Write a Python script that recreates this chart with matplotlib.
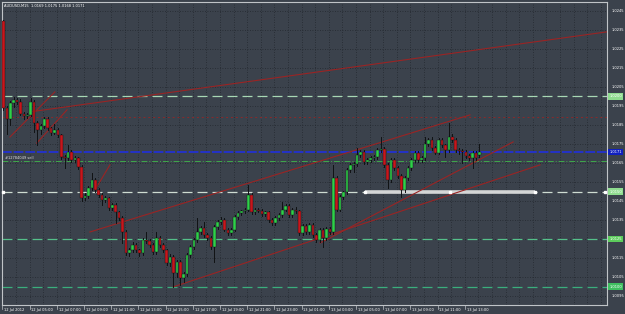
import numpy as np
import matplotlib
matplotlib.use("Agg")
import matplotlib.pyplot as plt
import matplotlib.transforms as mtrans

# AUDUSD M15, prices in pips above 1.0000
open_pips = [239.5, 194.0, 188.0, 196.5, 198.0, 197.0, 191.0, 189.5, 190.5, 197.0,
             186.0, 182.5, 184.5, 188.0, 183.5, 181.0, 182.5, 179.5, 168.0, 167.5,
             171.0, 166.5, 167.5, 163.0, 146.5, 147.5, 152.0, 156.0, 151.0, 148.0,
             145.5, 146.5, 141.5, 143.0, 139.0, 136.0, 128.5, 117.5, 119.0, 122.0,
             119.0, 117.5, 124.5, 124.0, 122.0, 118.0, 125.5, 122.0, 119.0, 112.5,
             115.5, 107.0, 113.0, 104.5, 106.5, 116.5, 121.0, 124.5, 128.5, 131.0,
             127.0, 125.5, 121.0, 131.5, 134.0, 135.0, 130.0, 128.0, 130.0, 136.5,
             138.5, 139.5, 140.5, 148.0, 139.0, 140.5, 140.0, 138.0, 139.0, 135.0,
             133.5, 136.0, 137.5, 140.5, 142.5, 137.5, 140.5, 139.5, 128.0, 132.0,
             128.5, 132.5, 127.0, 124.5, 130.0, 125.5, 130.5, 128.5, 157.0, 140.5,
             147.0, 149.5, 161.5, 164.0, 164.5, 169.0, 171.0, 165.5, 166.5, 167.5,
             168.0, 172.0, 172.5, 164.0, 156.0, 166.5, 162.5, 158.0, 151.0, 157.0,
             162.5, 166.5, 170.5, 166.5, 167.5, 175.0, 177.0, 173.0, 170.5, 177.0,
             174.5, 172.0, 178.5, 177.0, 172.0, 171.5, 171.0, 168.5, 167.5, 170.5,
             169.0]
high_pips = [240.0, 195.0, 197.5, 199.5, 199.0, 198.5, 192.0, 191.5, 199.0, 198.0,
             187.0, 185.5, 189.0, 189.0, 184.0, 185.5, 183.5, 180.5, 169.0, 174.5,
             172.0, 168.5, 168.0, 164.0, 149.0, 153.0, 160.0, 157.0, 152.0, 149.0,
             147.5, 147.0, 144.0, 144.0, 140.0, 137.0, 129.5, 120.5, 123.5, 123.0,
             120.0, 125.5, 128.5, 125.0, 123.0, 128.5, 126.5, 123.0, 120.0, 117.0,
             116.5, 114.0, 114.0, 107.5, 117.5, 122.0, 125.5, 136.0, 132.0, 134.0,
             128.0, 126.5, 132.5, 135.0, 136.5, 136.0, 131.0, 131.0, 137.5, 139.5,
             140.5, 141.5, 153.5, 149.0, 141.5, 141.5, 141.0, 140.0, 140.0, 136.0,
             137.0, 138.5, 144.5, 143.5, 143.5, 141.5, 142.0, 140.5, 133.0, 133.0,
             133.5, 133.5, 128.0, 131.0, 131.0, 131.5, 131.5, 164.0, 158.0, 148.0,
             150.5, 162.5, 165.0, 165.5, 173.0, 172.0, 172.0, 167.5, 168.5, 169.0,
             173.0, 178.5, 173.5, 165.0, 167.5, 167.5, 163.5, 159.0, 158.0, 163.5,
             167.5, 171.5, 171.5, 168.5, 178.5, 178.0, 178.5, 174.0, 178.0, 178.0,
             175.0, 186.0, 180.0, 178.0, 173.0, 172.5, 172.0, 169.5, 171.5, 171.5,
             175.0]
low_pips = [193.0, 180.0, 185.0, 194.5, 196.0, 190.0, 188.0, 188.5, 189.5, 181.5,
            174.5, 180.0, 183.5, 182.5, 179.5, 180.0, 178.5, 167.0, 162.5, 166.5,
            165.5, 165.5, 162.0, 145.0, 145.5, 146.5, 151.0, 150.0, 147.0, 143.0,
            144.5, 140.5, 140.5, 133.5, 135.0, 123.0, 116.5, 116.0, 118.0, 118.0,
            116.0, 116.5, 123.0, 121.0, 117.0, 117.0, 121.0, 118.0, 111.5, 111.0,
            100.0, 105.0, 101.0, 102.5, 105.5, 115.5, 120.0, 123.5, 127.5, 126.0,
            124.5, 119.5, 113.0, 130.5, 133.0, 129.0, 127.0, 127.0, 129.0, 135.5,
            137.5, 138.5, 139.5, 138.0, 138.0, 139.0, 137.0, 137.0, 134.0, 132.5,
            132.5, 135.0, 136.5, 139.5, 136.5, 136.5, 138.5, 127.0, 127.0, 127.5,
            127.5, 126.0, 123.5, 123.5, 121.0, 124.5, 127.5, 127.5, 139.5, 139.5,
            146.0, 148.5, 160.5, 160.5, 163.5, 168.0, 164.5, 164.5, 165.5, 166.5,
            167.0, 171.0, 163.0, 152.0, 155.0, 161.5, 157.0, 147.0, 150.0, 156.0,
            161.5, 165.5, 165.5, 165.5, 166.5, 174.0, 172.0, 169.5, 169.5, 173.5,
            168.0, 171.0, 176.0, 171.0, 170.0, 165.0, 167.5, 166.5, 162.5, 166.5,
            168.0]
close_pips = [194.0, 188.0, 196.5, 198.0, 197.0, 191.0, 189.5, 190.5, 197.0, 186.0,
              182.5, 184.5, 188.0, 183.5, 181.0, 182.5, 179.5, 168.0, 167.5, 171.0,
              166.5, 167.5, 163.0, 146.5, 147.5, 152.0, 156.0, 151.0, 148.0, 145.5,
              146.5, 141.5, 143.0, 139.0, 136.0, 128.5, 117.5, 119.0, 122.0, 119.0,
              117.5, 124.5, 124.0, 122.0, 118.0, 125.5, 122.0, 119.0, 112.5, 115.5,
              107.0, 113.0, 104.5, 106.5, 116.5, 121.0, 124.5, 128.5, 131.0, 127.0,
              125.5, 121.0, 131.5, 134.0, 135.0, 130.0, 128.0, 130.0, 136.5, 138.5,
              139.5, 140.5, 148.0, 139.0, 140.5, 140.0, 138.0, 139.0, 135.0, 133.5,
              136.0, 137.5, 140.5, 142.5, 137.5, 140.5, 139.5, 128.0, 132.0, 128.5,
              132.5, 127.0, 124.5, 130.0, 125.5, 130.5, 128.5, 157.0, 140.5, 147.0,
              149.5, 161.5, 164.0, 164.5, 169.0, 171.0, 165.5, 166.5, 167.5, 168.0,
              172.0, 172.5, 164.0, 156.0, 166.5, 162.5, 158.0, 151.0, 157.0, 162.5,
              166.5, 170.5, 166.5, 167.5, 175.0, 177.0, 173.0, 170.5, 177.0, 174.5,
              172.0, 178.5, 177.0, 172.0, 171.5, 171.0, 168.5, 167.5, 170.5, 167.5,
              171.0]

time_labels = ["12 Jul 2012", "12 Jul 05:00", "12 Jul 07:00", "12 Jul 09:00",
               "12 Jul 11:00", "12 Jul 13:00", "12 Jul 15:00", "12 Jul 17:00",
               "12 Jul 19:00", "12 Jul 21:00", "12 Jul 23:00", "13 Jul 01:00",
               "13 Jul 03:00", "13 Jul 05:00", "13 Jul 07:00", "13 Jul 09:00",
               "13 Jul 11:00", "13 Jul 13:00"]
price_ticks = [1.0095, 1.0105, 1.0115, 1.0125, 1.0135, 1.0145, 1.0155, 1.0165,
               1.0175, 1.0185, 1.0195, 1.0205, 1.0215, 1.0225, 1.0235, 1.0245]

# horizontal levels drawn by the trader
level_prices = [1.0200, 1.0150, 1.0125, 1.0100]
level_colors = ["#a8d8b4", "#cfdcd2", "#55c08a", "#3aae7c"]
box_colors = ["#8fdc8f", "#8fdc8f", "#5ccc5c", "#3fc060"]
bid_price = 1.0171
order_price = 1.0166
stop_price = 1.0189
order_label = "#12784049 sell"
title = "AUDUSD,M15  1.0169 1.0175 1.0168 1.0171"

# trend lines: (bar, pips) start and end
trend_lines = [((7.8, 191.9), (177.5, 234.0)),
               ((25.4, 128.7), (137.2, 190.3)),
               ((49.9, 99.8), (157.8, 164.0)),
               ((93.1, 122.9), (149.9, 176.1)),
               ((1.9, 178.7), (15.1, 202.4)),
               ((9.8, 175.5), (18.7, 193.0)),
               ((26.9, 150.8), (31.3, 164.0))]
# grey segment on the 1.0150 level
segment_bars = (106.3, 156.3)

BG = "#3b424c"
W, H = 625, 314

o = 1 + np.array(open_pips) / 1e4
h = 1 + np.array(high_pips) / 1e4
l = 1 + np.array(low_pips) / 1e4
c = 1 + np.array(close_pips) / 1e4
n = len(o)

fig = plt.figure(figsize=(W / 100, H / 100), dpi=100)
fig.patch.set_facecolor(BG)
ax = fig.add_axes([2 / W, 9 / H, 605 / W, 303 / H])
ax.set_facecolor(BG)
ax.set_xlim(-0.44, 177.5)
ax.set_ylim(1.00903, 1.02497)
ax.set_xticks([])
ax.set_yticks([])
for s in ax.spines.values():
    s.set_color("#c0c4c8")
    s.set_linewidth(0.8)

# grid
for gx in np.arange(-0.3, 178, 4):
    ax.axvline(gx, color="#23282f", lw=0.6, ls=(0, (1, 2)), zorder=0)
for gy in price_ticks:
    ax.axhline(gy, color="#23282f", lw=0.6, ls=(0, (1, 2)), zorder=0)

# levels
ax.axhline(stop_price, color="#8a2a2a", lw=0.7, ls=(0, (2, 3)), zorder=1)
for p, col in zip(level_prices, level_colors):
    ax.axhline(p, color=col, lw=0.9, ls=(0, (8, 4)), zorder=1)
ax.axhline(order_price, color="#3fa84a", lw=0.7, ls=(0, (6, 2, 1, 2)), zorder=1)
ax.axhline(bid_price, color="#2432c8", lw=1.4, ls=(0, (5, 1)), zorder=1)
ax.plot(segment_bars, [1.0150, 1.0150], color="#d4d6d6", lw=2.6,
        solid_capstyle="butt", zorder=2)
ax.plot([segment_bars[0], np.mean(segment_bars), segment_bars[1]], [1.0150] * 3,
        ls="none", marker="s", ms=2, color="white", zorder=3)
ax.plot([0.0, 177.0], [1.0150, 1.0150], ls="none", marker="s", ms=2,
        color="white", zorder=3, clip_on=False)

# trend lines
for (x0, y0), (x1, y1) in trend_lines:
    ax.plot([x0, x1], [1 + y0 / 1e4, 1 + y1 / 1e4], color="#9a2424", lw=0.8,
            zorder=2)

# candles
bw = 0.75
for i in range(n):
    ax.plot([i, i], [l[i], h[i]], color="#101214", lw=0.7, zorder=4)
    bottom = min(o[i], c[i])
    height = max(abs(c[i] - o[i]), 0.00001)
    col = "#2fd04a" if c[i] >= o[i] else "#c8161c"
    ax.add_patch(plt.Rectangle((i - bw / 2, bottom), bw, height, facecolor=col,
                               edgecolor="#101214", lw=0.3, zorder=5))

# texts
fs = 2.6
ax.text(0.004, 0.992, title, transform=ax.transAxes, fontsize=fs,
        color="white", va="top", ha="left")
ax.text(0.3, order_price + 0.00005, order_label, fontsize=fs, color="#e0e0e0",
        va="bottom", ha="left", zorder=6)

tr = mtrans.blended_transform_factory(ax.transAxes, ax.transData)
for p in price_ticks:
    if any(abs(p - q) < 0.0002 for q in level_prices):
        continue
    ax.text(1.007, p, f"{p:.4f}", transform=tr, fontsize=fs, color="white",
            va="center", ha="left", clip_on=False)
for p, bc in zip(level_prices, box_colors):
    ax.text(1.004, p, f"{p:.4f}", transform=tr, fontsize=fs, color="white",
            va="center", ha="left", clip_on=False, zorder=10,
            bbox=dict(boxstyle="square,pad=0.3", fc=bc, ec="none"))
ax.text(1.004, bid_price, f"{bid_price:.4f}", transform=tr, fontsize=fs,
        color="white", va="center", ha="left", clip_on=False, zorder=10,
        bbox=dict(boxstyle="square,pad=0.3", fc="#1020c0", ec="none"))

trx = mtrans.blended_transform_factory(ax.transData, ax.transAxes)
for k, lab in enumerate(time_labels):
    ax.text(k * 8 + 0.2, -0.01, lab, transform=trx, fontsize=fs,
            color="white", va="top", ha="left", clip_on=False)
    ax.plot([k * 8 - 0.3] * 2, [0, -0.012], transform=trx, color="#c0c4c8",
            lw=0.5, clip_on=False)

fig.savefig("out.png", dpi=100, facecolor=BG)
